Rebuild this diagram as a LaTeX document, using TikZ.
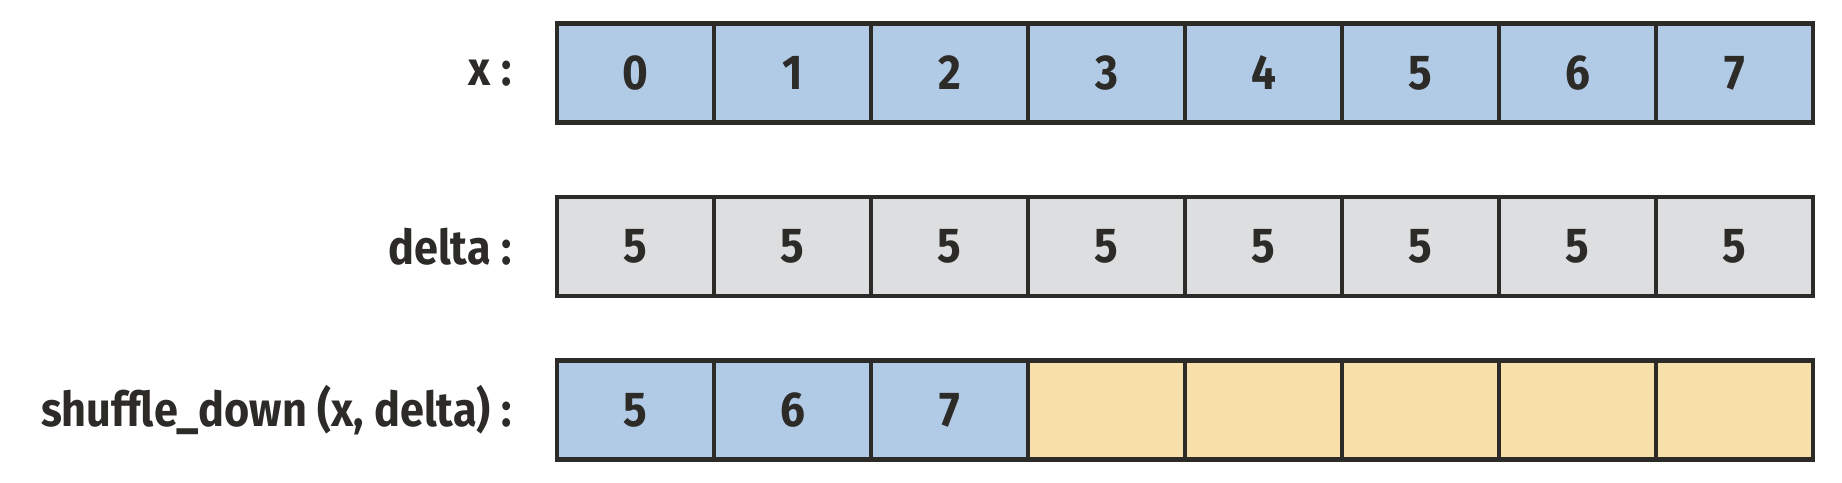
\documentclass[tikz,border=0pt]{standalone}
\usepackage{fontspec}
\newfontfamily\cellfont{Fira Sans}[FakeStretch=0.9]
\usepackage{tikz}
\usetikzlibrary{positioning}

\definecolor{ink}{HTML}{2D2B28}
\definecolor{cellblue}{HTML}{B1CBE6}
\definecolor{cellgray}{HTML}{DDDEE0}
\definecolor{cellyellow}{HTML}{F7E0A9}

\begin{document}
\begin{tikzpicture}[x=0.5pt,y=-0.5pt,
  node distance=21.5pt,
  cell/.style={draw=ink,line width=2.2pt,minimum width=78.5pt,minimum height=49.5pt,
    inner sep=0pt,text=ink,font=\cellfont\bfseries\fontsize{24.5}{28}\selectfont},
  lbl/.style={inner sep=0pt,text=ink,font=\cellfont\bfseries\fontsize{24}{28}\selectfont}]
\useasboundingbox (0,0) rectangle (1842,482);
%\draw[help lines,step=50] (0,0) grid (1842,482);

% x
\foreach \i in {0,...,7}
  \node[cell,fill=cellblue] (x\i) at (635.5+157*\i,73) {\i};
\node[lbl,left=of x0] (lx) {x :};

% delta
\foreach \i in {0,...,7}
  \node[cell,fill=cellgray] (d\i) at (635.5+157*\i,246.5) {5};
\node[lbl,left=of d0] (ld) {delta :};

% shuffle_down
\foreach \i/\v in {0/5,1/6,2/7}
  \node[cell,fill=cellblue] (s\i) at (635.5+157*\i,410) {\v};
\foreach \i in {3,...,7}
  \node[cell,fill=cellyellow] (s\i) at (635.5+157*\i,410) {};
\node[lbl,left=of s0] (ls) {shuffle\_down (x, delta) :};
\end{tikzpicture}
\end{document}
